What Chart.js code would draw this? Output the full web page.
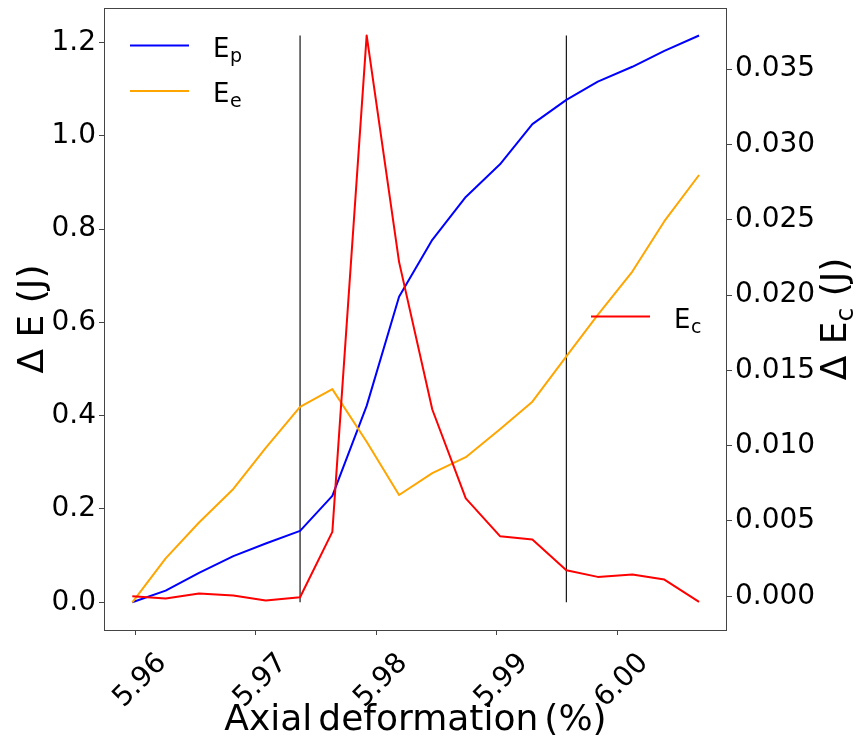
<!DOCTYPE html>
<html><head><meta charset="utf-8">
<script src="https://cdn.jsdelivr.net/npm/chart.js@4/dist/chart.umd.min.js"></script>
<style>html,body{margin:0;padding:0;background:#fff}#wrap{width:856px;height:740px;position:relative}</style>
</head><body><div id="wrap"><canvas id="c" width="856" height="740"></canvas></div>
<script>
// ---- data ----
const deformation = [5.95975,5.96252,5.96529,5.96814,5.97083,5.97368,5.97636,5.97921,5.98190,5.98466,5.98744,5.99028,5.99297,5.99579,5.99840,6.00127,6.00393,6.00681];
const plasticEnergy = [0.000,0.025,0.063,0.099,0.126,0.153,0.228,0.421,0.655,0.777,0.869,0.939,1.025,1.077,1.116,1.148,1.182,1.215];
const elasticEnergy = [0.000,0.094,0.171,0.243,0.331,0.419,0.457,0.344,0.230,0.277,0.311,0.371,0.430,0.527,0.616,0.709,0.817,0.916];
const crackEnergy = [0.0000,-0.00015,0.00019,0.00005,-0.00028,-0.00006,0.00428,0.03723,0.0222,0.0124,0.0065,0.00399,0.00377,0.00173,0.00129,0.00145,0.00111,-0.00037];
const stageLines = [5.97368, 5.99579];
const xTicks = [5.96,5.97,5.98,5.99,6.00];
const leftTicks = [0.0,0.2,0.4,0.6,0.8,1.0,1.2];
const rightTicks = [0.000,0.005,0.010,0.015,0.020,0.025,0.030,0.035];

const FONT = "'DejaVu Sans'";
const pts = ys => deformation.map((x,i)=>({x:x,y:ys[i]}));
const lineTop = Math.max(...plasticEnergy);

const datasets = [
  {label:'Ec', data:pts(crackEnergy), yAxisID:'y1', borderColor:'#ff0000', borderWidth:2, order:0},
  {label:'Ee', data:pts(elasticEnergy), yAxisID:'y', borderColor:'#ffa500', borderWidth:2, order:1},
  {label:'Ep', data:pts(plasticEnergy), yAxisID:'y', borderColor:'#0000ff', borderWidth:2, order:2},
];
stageLines.forEach((v,i)=>datasets.push({label:'stage'+i, data:[{x:v,y:0},{x:v,y:lineTop}], yAxisID:'y', borderColor:'#000', borderWidth:1.1, order:3}));
datasets.forEach(d=>{d.pointRadius=0;d.fill=false;d.tension=0;d.borderJoinStyle='round';d.borderCapStyle='butt';});

function drawSubText(ctx, x, y, main, sub, size, subSize, shift){
  ctx.font = size+'px '+FONT;
  ctx.fillText(main, x, y);
  const w = ctx.measureText(main).width;
  ctx.font = subSize+'px '+FONT;
  ctx.fillText(sub, x+w+0.5, y+shift);
}

const overlay = {
  id:'overlay',
  afterDraw(chart){
    const ctx = chart.ctx, a = chart.chartArea;
    ctx.save();
    ctx.strokeStyle = '#444'; ctx.lineWidth = 1;
    ctx.strokeRect(a.left+0.5, a.top+0.5, a.right-a.left-1, a.bottom-a.top);
    const legend = [
      {color:'#0000ff', sub:'p', x1:130, x2:189, y:45.5},
      {color:'#ffa500', sub:'e', x1:130, x2:189, y:91},
      {color:'#ff0000', sub:'c', x1:591, x2:650, y:316.5}
    ];
    ctx.textBaseline = 'alphabetic'; ctx.textAlign = 'left';
    legend.forEach(l=>{
      ctx.strokeStyle = l.color; ctx.lineWidth = 2;
      ctx.beginPath(); ctx.moveTo(l.x1, l.y); ctx.lineTo(l.x2, l.y); ctx.stroke();
      ctx.fillStyle = '#000';
      drawSubText(ctx, l.x2+24, l.y+11, 'E', l.sub, 26, 19, 5);
    });
    // right axis title
    ctx.fillStyle = '#000';
    ctx.translate(846, 319);
    ctx.rotate(-Math.PI/2);
    ctx.font = '36px '+FONT;
    const p1 = 'Δ E', p3 = ' (J)';
    const w1 = ctx.measureText(p1).width;
    ctx.font = '25px '+FONT;
    const w2 = ctx.measureText('c').width;
    ctx.font = '36px '+FONT;
    const w3 = ctx.measureText(p3).width;
    let sx = -(w1+w2+w3)/2;
    ctx.fillText(p1, sx, 0);
    ctx.font = '25px '+FONT;
    ctx.fillText('c', sx+w1, 7);
    ctx.font = '36px '+FONT;
    ctx.fillText(p3, sx+w1+w2, 0);
    ctx.restore();
  }
};

const noPad = s => { s.paddingTop = 0; s.paddingBottom = 0; s.paddingLeft = 0; s.paddingRight = 0; };

new Chart(document.getElementById('c'), {
  type:'line',
  data:{datasets},
  options:{
    responsive:false, animation:false, devicePixelRatio:1,
    layout:{padding:{top:8,left:0,right:0,bottom:0}},
    plugins:{legend:{display:false}, tooltip:{enabled:false}},
    scales:{
      x:{type:'linear', min:5.9574, max:6.00913,
        afterBuildTicks:s=>{s.ticks = xTicks.map(v=>({value:v}));},
        afterFit:s=>{s.height=110; noPad(s);},
        border:{display:false},
        grid:{drawOnChartArea:false, drawTicks:true, tickLength:5, color:'#444'},
        ticks:{autoSkip:false, minRotation:45, maxRotation:45, labelOffset:27, padding:12, color:'#000', font:{family:FONT,size:28}, callback:v=>Number(v).toFixed(2)},
        title:{display:true, text:'Axial\u2006deformation\u2006(%)', color:'#000', font:{family:FONT,size:36}, padding:{top:0,bottom:-2}}
      },
      y:{position:'left', min:-0.0594, max:1.274,
        afterBuildTicks:s=>{s.ticks = leftTicks.map(v=>({value:v}));},
        afterFit:s=>{s.width=104; noPad(s);},
        border:{display:false},
        grid:{drawOnChartArea:false, drawTicks:true, tickLength:5, color:'#444'},
        ticks:{padding:3, color:'#000', font:{family:FONT,size:28}, callback:v=>Number(v).toFixed(1)},
        title:{display:true, text:'Δ E (J)', color:'#000', font:{family:FONT,size:36}, padding:{top:12,bottom:0}}
      },
      y1:{position:'right', min:-0.002236, max:0.03905,
        afterBuildTicks:s=>{s.ticks = rightTicks.map(v=>({value:v}));},
        afterFit:s=>{s.width=129; noPad(s);},
        border:{display:false},
        grid:{drawOnChartArea:false, drawTicks:true, tickLength:5, color:'#444'},
        ticks:{padding:3, color:'#000', font:{family:FONT,size:28}, callback:v=>Number(v).toFixed(3)}
      }
    }
  },
  plugins:[overlay]
});
</script>
</body></html>
